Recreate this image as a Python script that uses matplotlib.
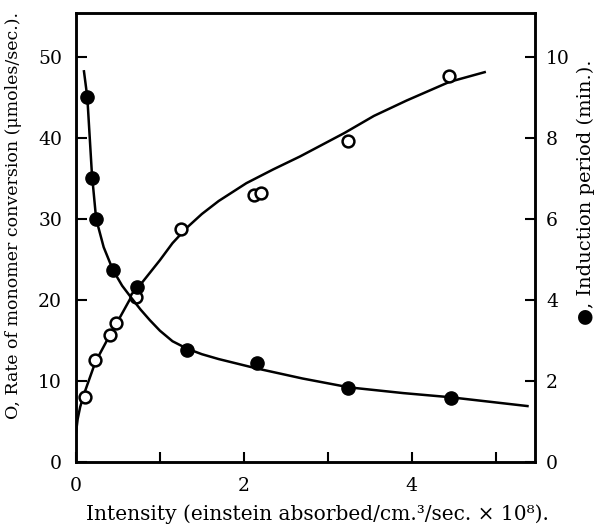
import numpy as np
import matplotlib
matplotlib.use("Agg")
import matplotlib.pyplot as plt

# open circles: rate of monomer conversion (left axis)
conv_x = [0.11, 0.23, 0.40, 0.48, 0.72, 1.25, 2.12, 2.20, 3.24, 4.45]
conv_y = [8.0, 12.6, 15.7, 17.2, 20.4, 28.7, 33.0, 33.2, 39.6, 47.6]

# filled circles: induction period (right axis)
ind_x = [0.135, 0.19, 0.24, 0.44, 0.73, 1.32, 2.16, 3.24, 4.47]
ind_y = [9.0, 7.0, 6.0, 4.74, 4.33, 2.77, 2.45, 1.83, 1.57]

# hand-drawn smooth curves
conv_curve_x = [0.0, 0.02, 0.05, 0.11, 0.23, 0.40, 0.50, 0.66, 0.80, 1.0,
                1.15, 1.32, 1.50, 1.70, 2.03, 2.35, 2.67, 3.2, 3.55, 3.94,
                4.45, 4.87]
conv_curve_y = [3.6, 5.3, 6.8, 8.8, 12.3, 15.6, 17.4, 20.4, 22.3, 24.9,
                27.0, 28.9, 30.6, 32.2, 34.4, 36.1, 37.7, 40.6, 42.7, 44.6,
                46.9, 48.1]

ind_curve_x = [0.095, 0.135, 0.19, 0.24, 0.33, 0.44, 0.55, 0.66, 0.77, 0.88,
               1.0, 1.15, 1.32, 1.5, 1.7, 2.15, 2.7, 3.26, 3.9, 4.45, 5.0, 5.38]
ind_curve_y = [9.64, 9.0, 7.1, 6.0, 5.3, 4.74, 4.35, 4.05, 3.76, 3.5,
               3.24, 2.98, 2.80, 2.66, 2.54, 2.31, 2.06, 1.84, 1.70, 1.60,
               1.47, 1.38]

plt.rcParams["font.family"] = ["DejaVu Serif", "DejaVu Sans"]
plt.rcParams["font.size"] = 13.5

fig = plt.figure(figsize=(5.96, 5.26), dpi=100)
ax = fig.add_axes([0.1275, 0.1217, 0.7702, 0.8536])
ax2 = ax.twinx()

ax.plot(conv_curve_x, conv_curve_y, color="black", lw=1.8, zorder=2)
ax.plot(conv_x, conv_y, "o", ms=8.5, mfc="white", mec="black", mew=1.8, zorder=3)

ax2.plot(ind_curve_x, ind_curve_y, color="black", lw=1.8, zorder=2)
ax2.plot(ind_x, ind_y, "o", ms=9.5, mfc="black", mec="black", zorder=3)

ax.set_xlim(0, 5.47)
ax.set_ylim(0, 55.4)
ax2.set_ylim(0, 11.08)

ax.set_xticks([0, 1, 2, 3, 4, 5])
ax.set_xticklabels(["0", "", "2", "", "4", ""])
ax.set_yticks([0, 10, 20, 30, 40, 50])
ax2.set_yticks([0, 2, 4, 6, 8, 10])

ax.tick_params(axis="x", direction="in", length=7, width=1.5, pad=11)
ax.tick_params(axis="y", direction="in", length=8, width=1.5, pad=10)
ax2.tick_params(axis="y", direction="in", length=7, width=1.5, pad=8)
for a in (ax, ax2):
    for s in a.spines.values():
        s.set_linewidth(1.8)

ax.set_xlabel("Intensity (einstein absorbed/cm.³/sec. × 10⁸).", fontsize=14.5)
ax.xaxis.set_label_coords(0.527, -0.095)
ax.set_ylabel("O, Rate of monomer conversion (μmoles/sec.).", fontsize=12.5)
ax.yaxis.set_label_coords(-0.118, 0.548)
ax2.set_ylabel("●, Induction period (min.).", fontsize=14, rotation=90)
ax2.yaxis.set_label_coords(1.09, 0.6)

fig.savefig("out.png", dpi=100)
